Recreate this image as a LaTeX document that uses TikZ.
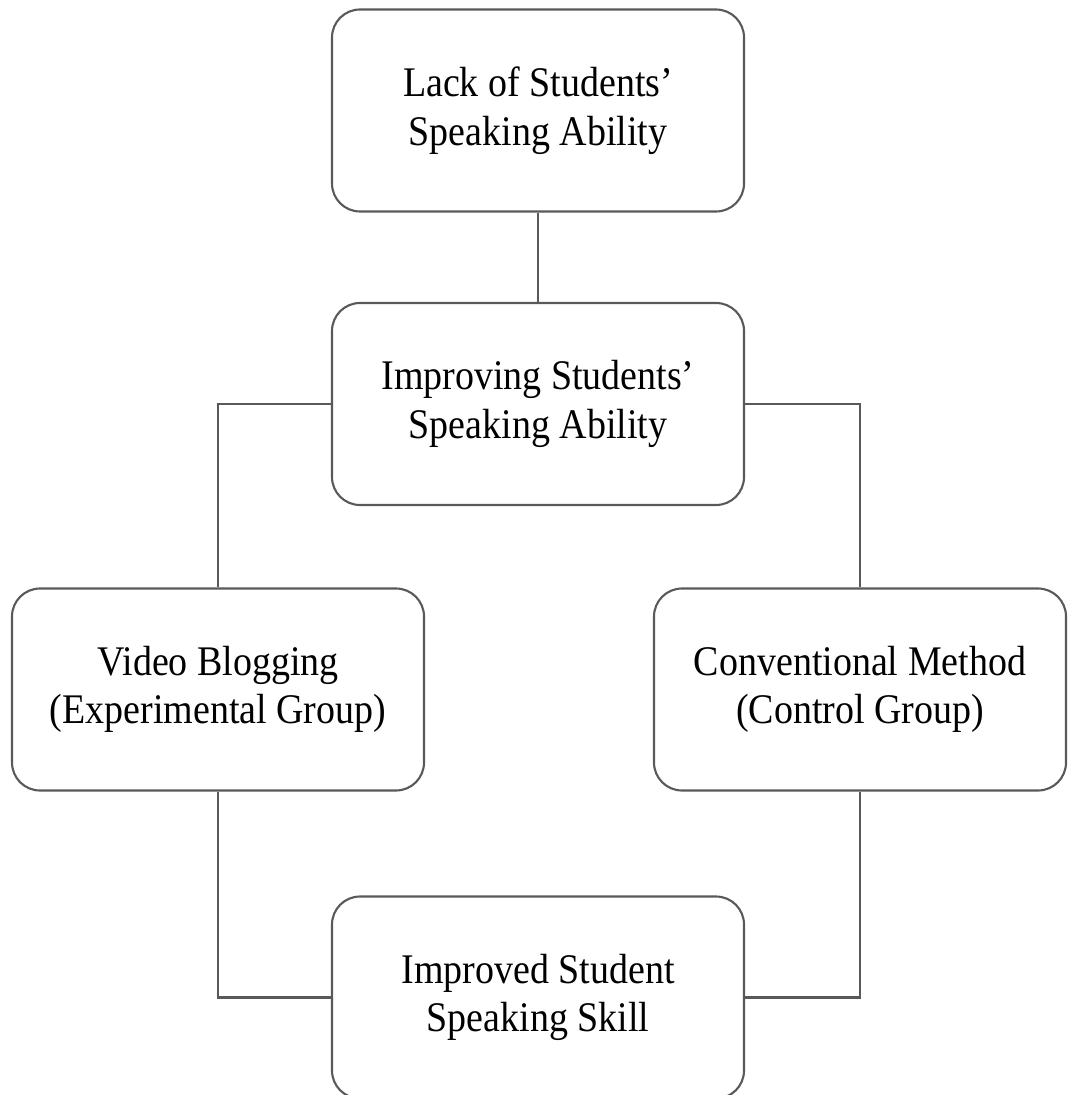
\documentclass[tikz,border=0pt]{standalone}
\usepackage{fontspec}
\setmainfont{Liberation Serif}[FakeStretch=0.9]
\begin{document}
\begin{tikzpicture}[scale=1,
  box/.style={draw=black!65,line width=0.6pt,rounded corners=0.28cm,
    minimum width=4.12cm,minimum height=2.02cm,inner sep=0pt,
    align=center,font=\fontsize{12}{13.8}\selectfont},
  link/.style={draw=black!65,line width=0.6pt}]
\useasboundingbox (0,0) rectangle (10.67,-10.95);
\node[box] (lack) at (5.38,-1.105) {Lack of Students'\\Speaking Ability};
\node[box] (improving) at (5.38,-4.04) {Improving Students'\\Speaking Ability};
\node[box] (vlog) at (2.18,-6.895) {Video Blogging\\(Experimental Group)};
\node[box] (conv) at (8.60,-6.895) {Conventional Method\\(Control Group)};
\node[box] (improved) at (5.38,-9.975) {Improved Student\\Speaking Skill};

\draw[link] (lack)--(improving);
\draw[link] (improving.west)-|(vlog.north);
\draw[link] (improving.east)-|(conv.north);
\draw[link] (vlog.south)|-(improved.west);
\draw[link] (conv.south)|-(improved.east);
\end{tikzpicture}
\end{document}
